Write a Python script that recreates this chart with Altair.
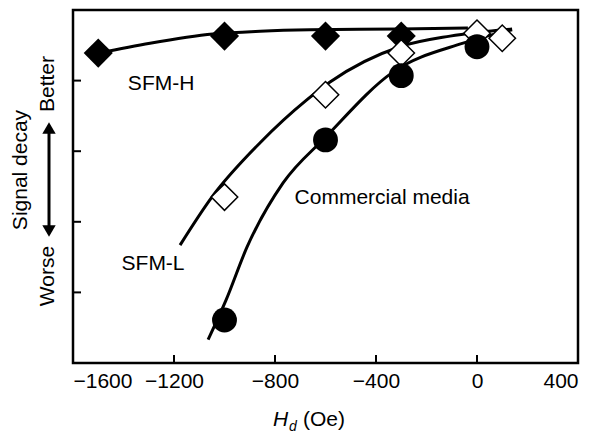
import altair as alt
import pandas as pd

# ---- data ----
sfmh_x = [-1500, -1000, -600, -300]
sfmh_y = [4.39, 4.63, 4.63, 4.63]
sfml_x = [-1000, -600, -300, 0, 100]
sfml_y = [2.35, 3.80, 4.39, 4.67, 4.60]
cm_x = [-1000, -600, -300, 0]
cm_y = [0.61, 3.16, 4.07, 4.48]

# fitted curves
sfmh_curve_x = [-1500, -1295, -1046, -859, -661, -305, -36]
sfmh_curve_y = [4.39, 4.53, 4.66, 4.70, 4.72, 4.73, 4.745]
sfml_curve_x = [-1176, -1050, -859, -673, -582, -305, -107, 139]
sfml_curve_y = [1.67, 2.35, 3.12, 3.73, 3.98, 4.48, 4.63, 4.73]
cm_curve_x = [-1065, -994, -911, -768, -602, -333, -55, 139]
cm_curve_y = [0.33, 0.89, 1.64, 2.55, 3.19, 4.12, 4.53, 4.72]

x_ticks = [-1600, -1200, -800, -400, 0, 400]
x_inner_ticks = [-1200, -800, -400, 0]
y_inner_ticks = [1, 2, 3, 4]

labels = ["SFM-H", "SFM-L", "Commercial media"]
label_x = [-1251, -1283, -376]
label_y = [3.95, 1.40, 2.34]

FONT = "Liberation Sans"
FS = 21
W, H = 505, 353

xs = alt.Scale(domain=[-1600, 400], nice=False, zero=False)
ys = alt.Scale(domain=[0, 5], nice=False, zero=False)
xax = alt.Axis(values=x_ticks, format="d", ticks=False, domain=False, grid=False,
               labelFontSize=FS, labelFont=FONT, labelColor="black",
               labelPadding=7, title=None)

def line_layer(xv, yv):
    df = pd.DataFrame({"x": xv, "y": yv})
    return alt.Chart(df).mark_line(color="black", strokeWidth=3, interpolate="monotone").encode(
        x=alt.X("x:Q", scale=xs, axis=xax),
        y=alt.Y("y:Q", scale=ys, axis=None),
    )

lines = line_layer(sfmh_curve_x, sfmh_curve_y) + line_layer(sfml_curve_x, sfml_curve_y) + line_layer(cm_curve_x, cm_curve_y)

enc = dict(x=alt.X("x:Q", scale=xs, axis=xax), y=alt.Y("y:Q", scale=ys, axis=None))

sfmh_pts = alt.Chart(pd.DataFrame({"x": sfmh_x, "y": sfmh_y})).mark_point(
    shape="diamond", filled=True, color="black", size=850, opacity=1).encode(**enc)
sfml_pts = alt.Chart(pd.DataFrame({"x": sfml_x, "y": sfml_y})).mark_point(
    shape="diamond", filled=True, fill="white", stroke="black", strokeWidth=1.5,
    size=700, opacity=1).encode(**enc)
cm_pts = alt.Chart(pd.DataFrame({"x": cm_x, "y": cm_y})).mark_circle(
    color="black", size=620, opacity=1).encode(**enc)

xticks = alt.Chart(pd.DataFrame({"x": x_inner_ticks})).mark_rule(color="black", strokeWidth=2).encode(
    x=alt.X("x:Q", scale=xs, axis=xax), y=alt.value(H), y2=alt.value(H - 8))
yticks = alt.Chart(pd.DataFrame({"y": y_inner_ticks})).mark_rule(color="black", strokeWidth=2).encode(
    y=alt.Y("y:Q", scale=ys, axis=None), x=alt.value(0), x2=alt.value(8))

txt = alt.Chart(pd.DataFrame({"x": label_x, "y": label_y, "t": labels})).mark_text(
    font=FONT, fontSize=FS, color="black", align="center", baseline="middle").encode(
    x=alt.X("x:Q", scale=xs, axis=xax), y=alt.Y("y:Q", scale=ys, axis=None), text="t:N")

def vtext(s, xv, yv, **kw):
    return alt.Chart(pd.DataFrame({"t": [s]})).mark_text(
        font=FONT, fontSize=FS, color="black", angle=270, align="center",
        baseline="middle", **kw).encode(x=alt.value(xv), y=alt.value(yv), text="t:N")

sig = vtext("Signal decay", -52, 160)
better = vtext("Better", -25, 74)
worse = vtext("Worse", -25, 266)

arrow = alt.Chart(pd.DataFrame({"a": [0]})).mark_rule(color="black", strokeWidth=3).encode(
    x=alt.value(-24), y=alt.value(118), y2=alt.value(221))
head_up = alt.Chart(pd.DataFrame({"a": [0]})).mark_point(
    shape="triangle-up", filled=True, color="black", size=180, opacity=1).encode(
    x=alt.value(-24), y=alt.value(118))
head_dn = alt.Chart(pd.DataFrame({"a": [0]})).mark_point(
    shape="triangle-down", filled=True, color="black", size=180, opacity=1).encode(
    x=alt.value(-24), y=alt.value(221))

def htext(s, xv, yv, size=FS, style="normal"):
    return alt.Chart(pd.DataFrame({"t": [s]})).mark_text(
        font=FONT, fontSize=size, fontStyle=style, color="black", align="left",
        baseline="alphabetic").encode(x=alt.value(xv), y=alt.value(yv), text="t:N")

xt_h = htext("H", 200, 416, FS, "italic")
xt_d = htext("d", 216, 421, 14, "italic")
xt_oe = htext("(Oe)", 230, 416, FS)

chart = alt.layer(
    lines, sfmh_pts, sfml_pts, cm_pts, xticks, yticks, txt,
    sig, better, worse, arrow, head_up, head_dn, xt_h, xt_d, xt_oe
).properties(
    width=W, height=H,
    padding={"left": 65, "top": 2, "right": 14, "bottom": 70},
    autosize=alt.AutoSizeParams(type="none"),
).configure_view(stroke="black", strokeWidth=2.5)

chart.save("out.html", embed_options={"renderer": "svg", "actions": False})
